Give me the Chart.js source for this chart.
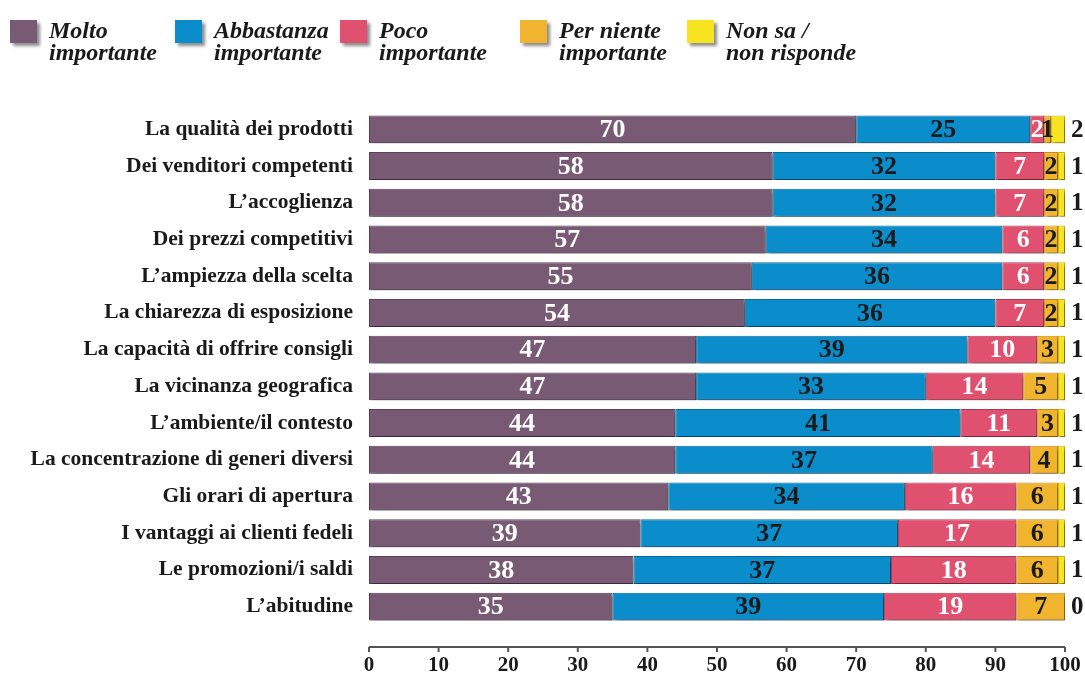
<!DOCTYPE html>
<html>
<head>
<meta charset="utf-8">
<script src="https://cdn.jsdelivr.net/npm/chart.js@4.4.1/dist/chart.umd.min.js"></script>
<style>
  body { margin: 0; background: #fff; }
  #wrap { position: relative; width: 1085px; height: 673px; }
  #legend { position: absolute; left: 0; top: 0; width: 1085px; height: 80px; font-family: "Liberation Serif", serif; font-style: italic; font-weight: bold; font-size: 24px; line-height: 22px; color: #1a1a1a; }
  .box { position: absolute; top: 20px; width: 27px; height: 23px; box-shadow: 3px 3px 3px rgba(0,0,0,0.45); }
  .txt { position: absolute; top: 19px; white-space: nowrap; }
</style>
</head>
<body>
<div id="wrap">
  <canvas id="chart" width="1085" height="673"></canvas>
  <div id="legend"></div>
</div>
<script>
const categories = [
  "La qualità dei prodotti",
  "Dei venditori competenti",
  "L’accoglienza",
  "Dei prezzi competitivi",
  "L’ampiezza della scelta",
  "La chiarezza di esposizione",
  "La capacità di offrire consigli",
  "La vicinanza geografica",
  "L’ambiente/il contesto",
  "La concentrazione di generi diversi",
  "Gli orari di apertura",
  "I vantaggi ai clienti fedeli",
  "Le promozioni/i saldi",
  "L’abitudine"
];
const seriesNames = [
  ["Molto", "importante"],
  ["Abbastanza", "importante"],
  ["Poco", "importante"],
  ["Per niente", "importante"],
  ["Non sa /", "non risponde"]
];
const molto      = [70, 58, 58, 57, 55, 54, 47, 47, 44, 44, 43, 39, 38, 35];
const abbastanza = [25, 32, 32, 34, 36, 36, 39, 33, 41, 37, 34, 37, 37, 39];
const poco       = [2, 7, 7, 6, 6, 7, 10, 14, 11, 14, 16, 17, 18, 19];
const perNiente  = [1, 2, 2, 2, 2, 2, 3, 5, 3, 4, 6, 6, 6, 7];
const nonSa      = [2, 1, 1, 1, 1, 1, 1, 1, 1, 1, 1, 1, 1, 0];
const tickValues = [0, 10, 20, 30, 40, 50, 60, 70, 80, 90, 100];

const colors = ["#785a74", "#0b8dcc", "#e0506f", "#f1b42e", "#f7e31f"];
const borders = ["#5a3f57", "#086b9c", "#b23852", "#c68c18", "#c9b614"];
const labelColors = ["#ffffff", "#1a1a1a", "#ffffff", "#1a1a1a", "#1a1a1a"];
const serif = "'Liberation Serif', serif";

// legend as html text
const legendX = [10, 175, 340, 520, 687];
const legend = document.getElementById("legend");
seriesNames.forEach((name, i) => {
  const box = document.createElement("div");
  box.className = "box";
  box.style.left = legendX[i] + "px";
  box.style.background = colors[i];
  legend.appendChild(box);
  const t = document.createElement("div");
  t.className = "txt";
  t.style.left = (legendX[i] + 39) + "px";
  t.innerHTML = name[0] + "<br>" + name[1];
  legend.appendChild(t);
});

const shadowPlugin = {
  id: "shadow",
  beforeDatasetsDraw(chart) {
    const ctx = chart.ctx;
    ctx.save();
    ctx.shadowColor = "rgba(0,0,0,0.4)";
    ctx.shadowOffsetX = 2;
    ctx.shadowOffsetY = 3;
    ctx.shadowBlur = 3;
  },
  afterDatasetsDraw(chart) {
    chart.ctx.restore();
  }
};

const labelPlugin = {
  id: "labels",
  afterDatasetsDraw(chart) {
    const ctx = chart.ctx;
    ctx.save();
    ctx.textBaseline = "middle";
    chart.data.datasets.forEach((ds, i) => {
      const meta = chart.getDatasetMeta(i);
      meta.data.forEach((el, j) => {
        const v = ds.data[j];
        if (i === 4) {
          ctx.font = "bold 25px " + serif;
          ctx.fillStyle = "#1a1a1a";
          ctx.textAlign = "left";
          ctx.fillText(String(v), el.x + 6, el.y + 1);
          return;
        }
        if (!v) return;
        ctx.font = "bold 26px " + serif;
        ctx.fillStyle = labelColors[i];
        ctx.textAlign = "center";
        ctx.fillText(String(v), (el.x + el.base) / 2, el.y + 1);
      });
    });
    ctx.restore();
  }
};

// x axis line sits a bit below the last bar
const axisPlugin = {
  id: "axisLine",
  afterDraw(chart) {
    const ctx = chart.ctx;
    const x = chart.scales.x;
    const y = chart.chartArea.bottom + 22;
    ctx.save();
    ctx.strokeStyle = "#555";
    ctx.lineWidth = 2;
    ctx.beginPath();
    ctx.moveTo(x.getPixelForValue(0), y);
    ctx.lineTo(x.getPixelForValue(100), y);
    tickValues.forEach(t => {
      const px = x.getPixelForValue(t);
      ctx.moveTo(px, y);
      ctx.lineTo(px, y + 5);
    });
    ctx.stroke();
    ctx.restore();
  }
};

const values = [molto, abbastanza, poco, perNiente, nonSa];

new Chart(document.getElementById("chart"), {
  type: "bar",
  data: {
    labels: categories,
    datasets: values.map((d, i) => ({
      label: seriesNames[i].join(" "),
      data: d,
      backgroundColor: colors[i],
      borderColor: borders[i],
      borderWidth: 1,
      borderSkipped: false,
      barPercentage: 0.76,
      categoryPercentage: 1
    }))
  },
  options: {
    indexAxis: "y",
    responsive: false,
    animation: false,
    layout: { padding: { left: 0, top: 111, right: 20, bottom: 0 } },
    plugins: {
      legend: { display: false },
      tooltip: { enabled: false }
    },
    scales: {
      x: {
        stacked: true,
        min: 0,
        max: 100,
        afterBuildTicks: s => { s.ticks = tickValues.map(v => ({ value: v })); },
        afterFit: s => { s.height = 48; s.paddingLeft = 0; s.paddingRight = 0; },
        grid: { display: false },
        border: { display: false },
        ticks: {
          padding: 20,
          color: "#1a1a1a",
          font: { family: serif, weight: "bold", size: 21 }
        }
      },
      y: {
        stacked: true,
        afterFit: s => { s.width = 369; s.paddingTop = 0; s.paddingBottom = 0; },
        grid: { display: false },
        border: { display: false },
        ticks: {
          padding: 8,
          color: "#1a1a1a",
          font: { family: serif, weight: "bold", size: 21.5 }
        }
      }
    }
  },
  plugins: [shadowPlugin, labelPlugin, axisPlugin]
});
</script>
</body>
</html>
